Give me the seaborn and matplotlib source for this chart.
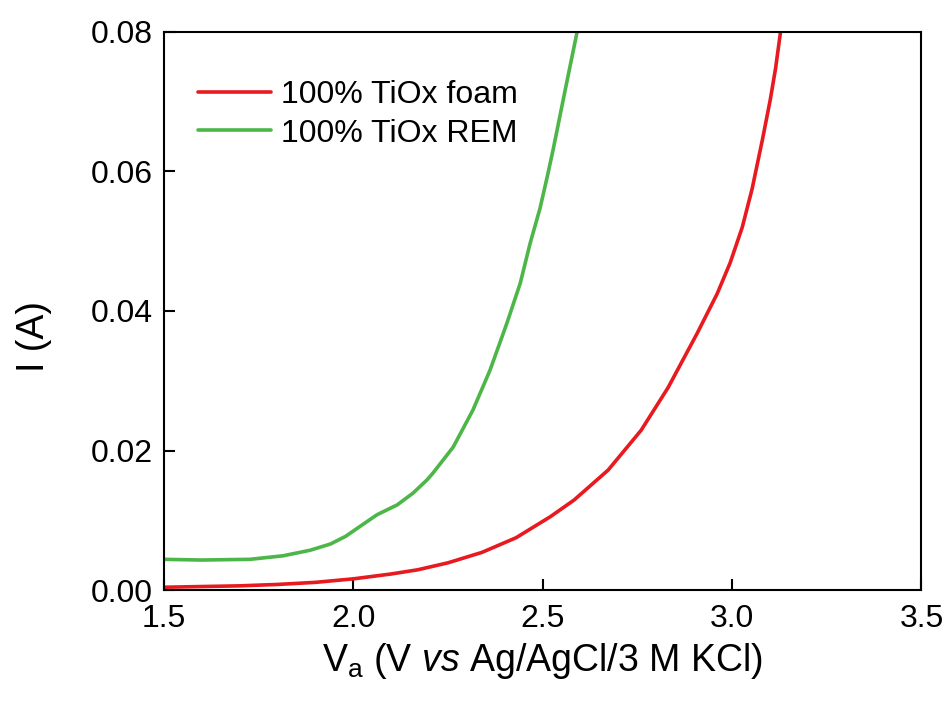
import matplotlib
matplotlib.use("Agg")
import matplotlib.pyplot as plt
import seaborn as sns
import pandas as pd

# data
foam_v = [1.50, 1.60, 1.70, 1.80, 1.90, 2.00, 2.10, 2.17, 2.25, 2.34, 2.43, 2.52, 2.583,
          2.673, 2.760, 2.831, 2.908, 2.961, 2.995, 3.027, 3.053, 3.080, 3.101, 3.115, 3.128]
foam_i = [0.0004, 0.0005, 0.0006, 0.0008, 0.0011, 0.0016, 0.0023, 0.0029, 0.0039, 0.0054, 0.0075, 0.0105, 0.0129,
          0.0172, 0.0229, 0.0290, 0.0368, 0.0425, 0.0469, 0.0520, 0.0575, 0.0645, 0.0703, 0.0748, 0.0800]
rem_v = [1.50, 1.60, 1.727, 1.814, 1.886, 1.940, 1.980, 2.020, 2.063, 2.116, 2.158, 2.195, 2.211,
         2.264, 2.316, 2.361, 2.406, 2.441, 2.467, 2.493, 2.512, 2.528, 2.560, 2.591]
rem_i = [0.0044, 0.0043, 0.0044, 0.0049, 0.0057, 0.0066, 0.0077, 0.0092, 0.0108, 0.0122, 0.0139, 0.0158, 0.0168,
         0.0205, 0.0258, 0.0315, 0.0383, 0.0440, 0.0497, 0.0547, 0.0592, 0.0632, 0.0718, 0.0800]
labels = ["100% TiOx foam", "100% TiOx REM"]
colors = ["#e8191f", "#4cb648"]

sns.set_style("ticks")
plt.rcParams['font.family'] = ['Liberation Sans', 'DejaVu Sans']
plt.rcParams['mathtext.fontset'] = 'custom'
plt.rcParams['mathtext.rm'] = 'Liberation Sans'
plt.rcParams['mathtext.it'] = 'Liberation Sans:italic'
for k in ['text.color', 'axes.labelcolor', 'xtick.color', 'ytick.color', 'axes.edgecolor']:
    plt.rcParams[k] = 'black'

fig = plt.figure(figsize=(9.47, 7.02), dpi=100)
ax = fig.add_axes([0.173, 0.1595, 0.8, 0.795])

df_foam = pd.DataFrame({"V": foam_v, "I": foam_i})
df_rem = pd.DataFrame({"V": rem_v, "I": rem_i})
sns.lineplot(data=df_foam, x="V", y="I", color=colors[0], lw=2.6, sort=False,
             estimator=None, label=labels[0], ax=ax)
sns.lineplot(data=df_rem, x="V", y="I", color=colors[1], lw=2.6, sort=False,
             estimator=None, label=labels[1], ax=ax)

ax.set_xlim(1.5, 3.5)
ax.set_ylim(0, 0.08)
ax.set_xticks([1.5, 2.0, 2.5, 3.0, 3.5])
ax.set_xticklabels(["1.5", "2.0", "2.5", "3.0", "3.5"])
ax.set_yticks([0, 0.02, 0.04, 0.06, 0.08])
ax.set_yticklabels(["0.00", "0.02", "0.04", "0.06", "0.08"])
ax.tick_params(direction='in', length=8, width=1.5, labelsize=23, colors='black')
ax.tick_params(axis='y', pad=8)
ax.tick_params(axis='x', pad=10)
for s in ax.spines.values():
    s.set_linewidth(1.5)
    s.set_color('black')

ax.set_xlabel(r'V$_\mathregular{a}$ (V $\it{vs}$ Ag/AgCl/3 M KCl)', fontsize=27, labelpad=5)
ax.set_ylabel('I (A)', fontsize=27)
ax.yaxis.set_label_coords(-0.148, 0.455)

ax.legend(loc='upper left', bbox_to_anchor=(0.045, 0.914), frameon=False, fontsize=23,
          handlelength=2.3, handletextpad=0.3, labelspacing=0.27, borderpad=0, borderaxespad=0)

fig.savefig("out.png", dpi=100)
